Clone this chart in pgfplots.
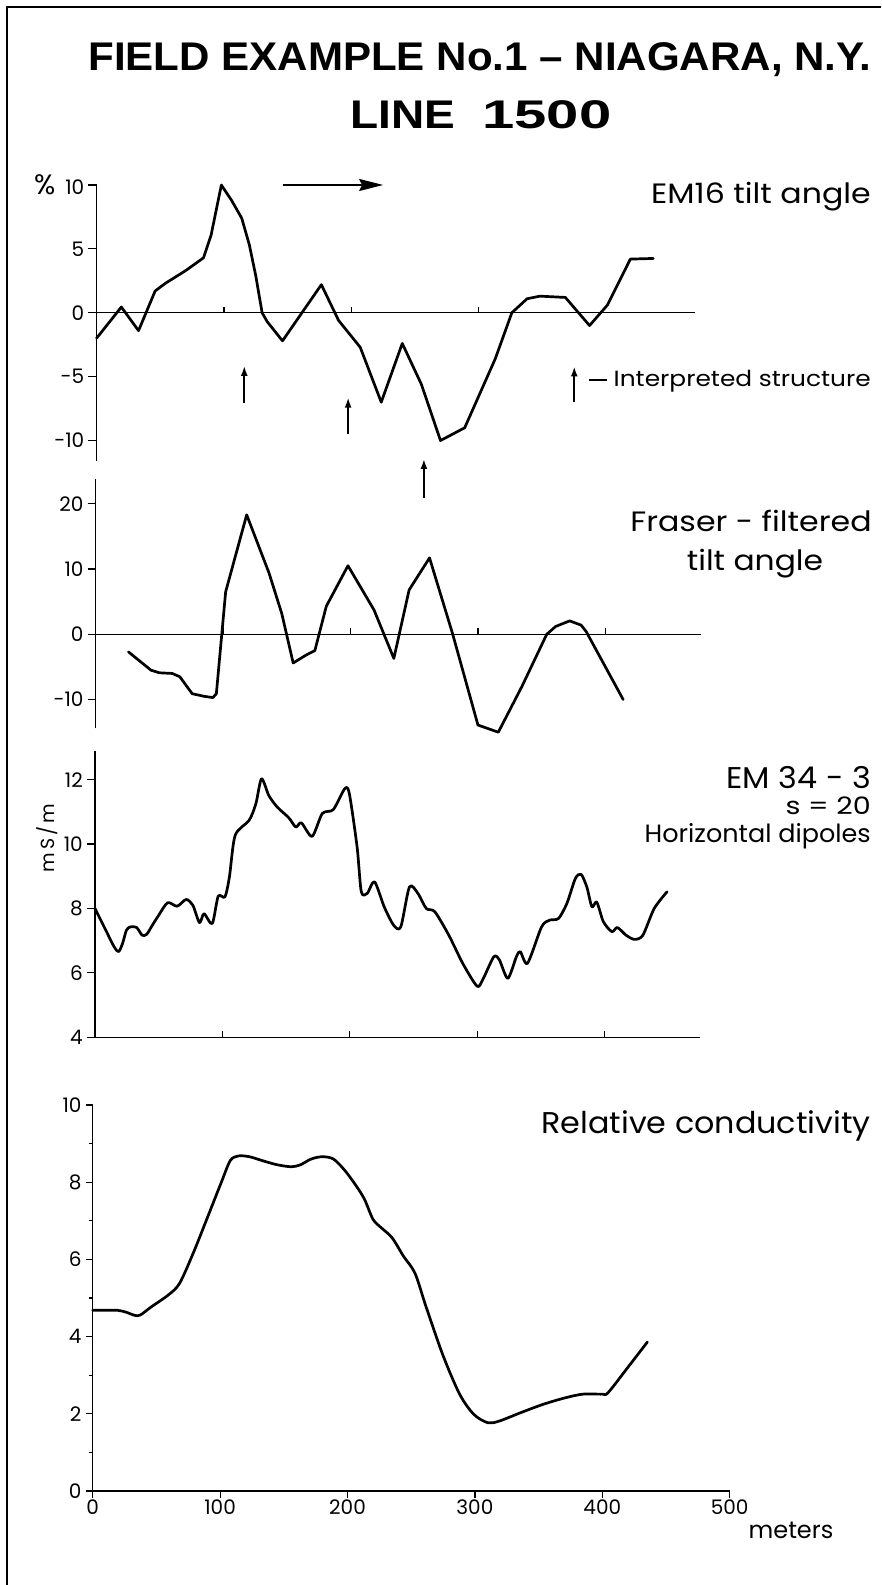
\documentclass[border=0pt]{standalone}
\usepackage{fontspec}
\setmainfont{Poppins}
\newfontfamily\titlefont{Liberation Sans}
\usepackage{pgfplots}
\pgfplotsset{compat=1.18}
\usetikzlibrary{arrows.meta}

\pgfplotsset{
  panel/.style={scale only axis, clip=false, axis y line*=left,
    axis line style={line width=1.4pt, black},
    tick style={black, line width=1.2pt},
    tick align=outside, major tick length=8pt, minor tick length=4pt,
    tick label style={font=\fontsize{20}{22}\selectfont},
    yticklabel style={inner xsep=4pt},
  },
  curve/.style={line width=2.7pt, black, line join=round, line cap=round, no marks},
}

\begin{document}
\begin{tikzpicture}
\path[use as bounding box] (0pt,0pt) rectangle (881pt,1585pt);
% frame
\draw[line width=2.2pt] (7pt,0pt) -- (7pt,1578pt) -- (881pt,1578pt);

% title
\node[font=\titlefont\bfseries\fontsize{40}{48}\selectfont, anchor=base, inner sep=0pt] at (480pt,1514pt)
  {\scalebox{1.052}[1]{FIELD EXAMPLE No.1 – NIAGARA, N.Y.}};
\node[font=\titlefont\bfseries\fontsize{40}{48}\selectfont, anchor=base, inner sep=0pt] at (481pt,1456pt)
  {\scalebox{1.15}[1]{LINE}\hspace{27pt}\scalebox{1.45}[1]{1500}};

% ---------------- Panel 1: EM16 tilt angle
\begin{axis}[panel, at={(96.5pt,1124pt)}, anchor=south west,
  width=598.8pt, height=276pt,
  xmin=0, xmax=470, ymin=-11.6, ymax=10,
  axis x line=none,
  ytick={-10,-5,0,5,10}, yticklabels={-10,-5,0,5,{{\fontsize{28}{28}\selectfont\%}\hspace{10pt}10}}]
\addplot[curve] coordinates {
(0,-2.0) (19.5,0.45) (33,-1.4) (46,1.7) (54,2.3) (70,3.3) (84,4.3) (90,6.1)
(98,10.0) (106,8.8) (114,7.4) (120,5.3) (125,2.9) (130,0) (134,-0.7) (146,-2.2)
(176.5,2.2) (190,-0.6) (207,-2.7) (223.5,-7.0) (240,-2.4) (255,-5.6) (270,-10.0)
(289,-9.0) (313,-3.6) (326,0) (338,1.1) (348,1.3) (368,1.2) (387,-1.0) (401,0.6)
(419,4.2) (437,4.25)};
\draw[line width=1.4pt] (axis cs:0,0) -- (axis cs:470,0);
\draw[line width=1.2pt] (axis cs:100,0) -- (axis cs:100,0.47);
\draw[line width=1.2pt] (axis cs:200,0) -- (axis cs:200,0.47);
\draw[line width=1.2pt] (axis cs:300,0) -- (axis cs:300,0.47);
% direction arrow
\draw[line width=1.9pt, -{Stealth[length=24pt,width=12pt,inset=3pt]}] (axis cs:146,10) -- (axis cs:225,10);
% interpreted structure arrows
\draw[line width=1.9pt, -{Latex[length=10pt,width=7pt]}] (axis cs:116,-7.03) -- (axis cs:116,-4.16);
\draw[line width=1.9pt, -{Latex[length=10pt,width=7pt]}] (axis cs:197.5,-9.48) -- (axis cs:197.5,-6.64);
\draw[line width=1.9pt, -{Latex[length=10pt,width=7pt]}] (axis cs:257,-14.5) -- (axis cs:257,-11.44);
\draw[line width=1.9pt, -{Latex[length=10pt,width=7pt]}] (axis cs:375,-7.0) -- (axis cs:375,-4.2);
\end{axis}

% ---------------- Panel 2: Fraser-filtered
\begin{axis}[panel, at={(95.7pt,856.7pt)}, anchor=south west,
  width=605.2pt, height=249.4pt,
  xmin=0, xmax=475, ymin=-14.4, ymax=23.8,
  axis x line=none,
  ytick={-10,0,10,20}, yticklabels={-10,0,10,20}]
\addplot[curve] coordinates {
(25.7,-2.7) (43.4,-5.5) (50,-5.9) (60,-6.0) (66,-6.5) (75.7,-9.1) (85,-9.5) (92,-9.7)
(94.7,-9.1) (102,6.5) (118.5,18.3) (136,9.4) (146,3.2) (155,-4.4) (165,-3.2)
(172,-2.5) (181,4.3) (198,10.5) (218.5,3.7) (234,-3.7) (246,6.8) (262,11.7)
(280,0.15) (300,-13.9) (316,-15.0) (334.5,-8.0) (354,0) (361,1.2) (372,2.05)
(381,1.4) (385,0.4) (414,-10.0)};
\draw[line width=1.4pt] (axis cs:0,0) -- (axis cs:475,0);
\draw[line width=1.2pt] (axis cs:100,0) -- (axis cs:100,0.92);
\draw[line width=1.2pt] (axis cs:200,0) -- (axis cs:200,0.92);
\draw[line width=1.2pt] (axis cs:300,0) -- (axis cs:300,0.92);
\draw[line width=1.2pt] (axis cs:400,0) -- (axis cs:400,0.92);
\end{axis}

% ---------------- Panel 3: EM34-3
\begin{axis}[panel, at={(95pt,547.7pt)}, anchor=south west,
  width=605.2pt, height=286.6pt,
  xmin=0, xmax=475, ymin=4, ymax=12.9,
  axis x line*=bottom, xtick=\empty,
  ytick={4,6,8,10,12}, yticklabels={4,6,8,10,12}]
\addplot[curve, smooth, tension=0.45] coordinates {
(0,8.0) (8.4,7.33) (15,6.81) (18.5,6.66) (21.6,6.91) (24.7,7.33) (28,7.43) (32.7,7.41)
(37,7.17) (40.6,7.2) (45,7.48) (50,7.79) (57,8.18) (64.5,8.07) (71.5,8.28) (76.8,8.1)
(82,7.56) (85.6,7.84) (92,7.53) (96.7,8.38) (102,8.36) (105.5,8.98) (110,10.27)
(121,10.74) (126.3,11.26) (130.7,12.03) (136.4,11.51) (143,11.15) (152,10.82)
(157.6,10.53) (162,10.66) (170.4,10.24) (178.4,10.95) (187,11.07) (196,11.72)
(199.6,11.57) (205.7,9.91) (209,8.52) (213.7,8.47) (219.4,8.83) (227,8.05)
(234.4,7.48) (240,7.43) (246.8,8.67) (253.4,8.47) (260,8.0) (266.7,7.9) (277.7,7.17)
(288.7,6.29) (299.8,5.59) (304.2,5.78) (313,6.5) (317.4,6.4) (324,5.83) (330.7,6.5)
(333.8,6.66) (339.5,6.3) (350.5,7.43) (357,7.64) (363.8,7.69) (370.4,8.16) (377,8.93)
(381.5,9.06) (386,8.67) (390,8.05) (393.8,8.2) (399,7.59) (405.7,7.28) (410,7.41)
(416.8,7.17) (423.4,7.04) (430,7.17) (438.9,8.0) (449,8.52)};
\draw[line width=1.2pt] (axis cs:100,4) -- (axis cs:100,4.19);
\draw[line width=1.2pt] (axis cs:200,4) -- (axis cs:200,4.19);
\draw[line width=1.2pt] (axis cs:300,4) -- (axis cs:300,4.19);
\draw[line width=1.2pt] (axis cs:400,4) -- (axis cs:400,4.19);
\end{axis}

% ---------------- Panel 4: Relative conductivity
\begin{axis}[panel, at={(92.7pt,94pt)}, anchor=south west,
  width=637pt, height=386pt,
  xmin=0, xmax=500, ymin=0, ymax=10,
  axis x line*=bottom,
  xtick={0,100,200,300,400,500}, xticklabels={0,100,200,300,400,500},
  xticklabel style={inner ysep=2pt},
  major tick length=7pt,
  ytick={0,2,4,6,8,10}, yticklabels={0,2,4,6,8,10},
  minor ytick={1,3,5,7,9}]
\addplot[curve, smooth, tension=0.5] coordinates {
(0,4.68) (8.8,4.68) (19.8,4.68) (26.4,4.63) (33,4.55) (37.4,4.56) (46,4.77) (59.4,5.08)
(68.2,5.38) (79,6.17) (90,7.08) (101,8.0) (108,8.56) (114.3,8.68) (123,8.66)
(134,8.55) (145,8.45) (156,8.4) (163,8.45) (171.5,8.6) (180,8.66) (189,8.6)
(198,8.3) (206.7,7.91) (213.3,7.56) (220,7.04) (226.5,6.82) (235,6.56) (244,6.08)
(253,5.64) (261.7,4.77) (275,3.51) (288,2.51) (299,1.99) (310,1.77) (319,1.81)
(336,2.03) (354,2.25) (371.6,2.42) (385,2.51) (400,2.51) (404.6,2.55) (420,3.2)
(435.4,3.86)};
\end{axis}

% ---------------- labels
\node[font=\fontsize{28}{32}\selectfont, anchor=base east, inner sep=0pt] at (871pt,1381.2pt) {\scalebox{1.13}[1]{EM16 tilt angle}};
\draw[line width=1.4pt] (589pt,1205pt) -- (607pt,1205pt);
\node[font=\fontsize{22}{26}\selectfont, anchor=base east, inner sep=0pt] at (871pt,1198.3pt) {\scalebox{1.13}[1]{Interpreted structure}};
\node[font=\fontsize{28}{32}\selectfont, anchor=base, inner sep=0pt] at (751pt,1053.2pt) {\scalebox{1.13}[1]{Fraser - filtered}};
\node[font=\fontsize{28}{32}\selectfont, anchor=base, inner sep=0pt] at (755pt,1014.2pt) {\scalebox{1.12}[1]{tilt angle}};
\node[font=\fontsize{30}{34}\selectfont, anchor=base east, inner sep=0pt] at (871pt,796.5pt) {\scalebox{1.06}[1]{EM 34 - 3}};
\node[font=\fontsize{24}{28}\selectfont, anchor=base east, inner sep=0pt] at (871pt,770pt) {\scalebox{1.19}[1]{s = 20}};
\node[font=\fontsize{25}{28}\selectfont, anchor=base east, inner sep=0pt] at (871pt,742pt) {\scalebox{1.02}[1]{Horizontal dipoles}};
\node[font=\fontsize{19}{22}\selectfont, rotate=90, inner sep=0pt] at (47.5pt,747pt) {m\,S\,/\,m};
\node[font=\fontsize{30}{34}\selectfont, anchor=base east, inner sep=0pt] at (871pt,451.5pt) {\scalebox{1.06}[1]{Relative conductivity}};
\node[font=\fontsize{24}{28}\selectfont, anchor=base, inner sep=0pt] at (791pt,46pt) {meters};
\end{tikzpicture}
\end{document}
